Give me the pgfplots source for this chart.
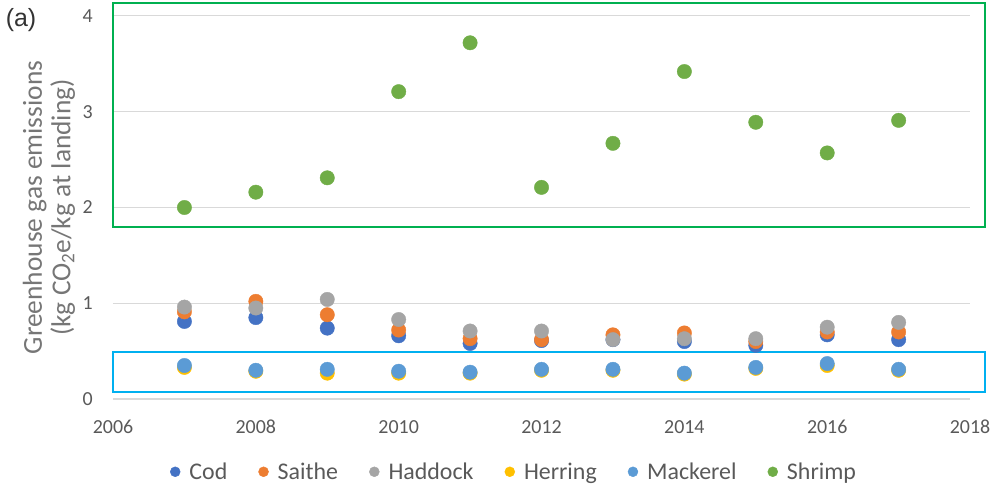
\documentclass[border=0pt]{standalone}
\usepackage{fontspec}
\setmainfont{Carlito}
\newfontfamily\panelfont{Liberation Sans}
\usepackage{pgfplots}
\pgfplotsset{compat=1.18}

\definecolor{codc}{RGB}{68,114,196}
\definecolor{saithec}{RGB}{237,125,49}
\definecolor{haddockc}{RGB}{165,165,165}
\definecolor{herringc}{RGB}{255,192,0}
\definecolor{mackerelc}{RGB}{91,155,213}
\definecolor{shrimpc}{RGB}{112,173,71}
\definecolor{gridc}{RGB}{217,217,217}
\definecolor{tickc}{RGB}{89,89,89}
\definecolor{labelc}{RGB}{118,118,118}
\definecolor{boxgreen}{RGB}{0,176,80}
\definecolor{boxblue}{RGB}{0,176,240}

\begin{document}
\begin{tikzpicture}
\useasboundingbox (-113bp,-89bp) rectangle (890bp,399bp);
\node[font=\panelfont\fontsize{25}{25}\selectfont, text=black!80] at (-92bp,379bp) {(a)};
\begin{axis}[
  at={(0,0)}, anchor=south west,
  x=71.42bp, y=95.75bp,
  xmin=2006, xmax=2018, ymin=0, ymax=4,
  clip=false,
  axis x line=bottom, axis y line=left,
  axis line style={-},
  x axis line style={draw=gridc, line width=1.2bp},
  y axis line style={draw=none},
  ymajorgrids,
  grid style={draw=gridc, line width=1bp},
  major tick length=0pt,
  xtick={2006,2008,...,2018}, ytick={0,1,2,3,4},
  /pgf/number format/1000 sep={},
  /pgf/number format/assume math mode=true,
  tick label style={font=\fontsize{20}{20}\selectfont, text=tickc, inner sep=0pt},
  xticklabel style={anchor=base, yshift=-34bp},
  yticklabel style={anchor=east, xshift=-20bp},
  ylabel={Greenhouse gas emissions\\(kg CO\textsubscript{2}e/kg at landing)},
  ylabel style={at={(axis description cs:0,0.5)}, anchor=center, yshift=64bp,
    align=center, font=\fontsize{27.5}{28.5}\selectfont, text=labelc},
  legend columns=6,
  legend style={at={(rel axis cs:0.472,-0.19)}, anchor=center, draw=none, fill=none,
    font=\fontsize{24}{24}\selectfont, text=tickc,
    nodes={inner ysep=0pt, inner xsep=9bp},
    /tikz/every even column/.append style={column sep=22bp}},
  legend image code/.code={\fill[#1] (0bp,0bp) circle (5bp);},
  every axis plot/.append style={only marks, mark=*, mark size=7.2bp},
]
\addplot[codc, mark options={draw=codc, fill=codc}] coordinates {
  (2007,0.81) (2008,0.85) (2009,0.74) (2010,0.66) (2011,0.58) (2012,0.61)
  (2013,0.62) (2014,0.60) (2015,0.56) (2016,0.67) (2017,0.62)};
\addlegendentry{Cod}
\addplot[saithec, mark options={draw=saithec, fill=saithec}] coordinates {
  (2007,0.91) (2008,1.02) (2009,0.88) (2010,0.72) (2011,0.63) (2012,0.62)
  (2013,0.67) (2014,0.69) (2015,0.60) (2016,0.70) (2017,0.70)};
\addlegendentry{Saithe}
\addplot[haddockc, mark options={draw=haddockc, fill=haddockc}] coordinates {
  (2007,0.96) (2008,0.95) (2009,1.04) (2010,0.83) (2011,0.71) (2012,0.71)
  (2013,0.62) (2014,0.63) (2015,0.63) (2016,0.75) (2017,0.80)};
\addlegendentry{Haddock}
\addplot[herringc, mark options={draw=herringc, fill=herringc}] coordinates {
  (2007,0.33) (2008,0.29) (2009,0.27) (2010,0.27) (2011,0.27) (2012,0.30)
  (2013,0.30) (2014,0.26) (2015,0.32) (2016,0.35) (2017,0.30)};
\addlegendentry{Herring}
\addplot[mackerelc, mark options={draw=mackerelc, fill=mackerelc}] coordinates {
  (2007,0.35) (2008,0.30) (2009,0.31) (2010,0.29) (2011,0.28) (2012,0.31)
  (2013,0.31) (2014,0.27) (2015,0.33) (2016,0.37) (2017,0.31)};
\addlegendentry{Mackerel}
\addplot[shrimpc, mark options={draw=shrimpc, fill=shrimpc}] coordinates {
  (2007,2.00) (2008,2.16) (2009,2.31) (2010,3.21) (2011,3.72) (2012,2.21)
  (2013,2.67) (2014,3.42) (2015,2.89) (2016,2.57) (2017,2.91)};
\addlegendentry{Shrimp}
% highlight boxes around the shrimp group and the pelagic group
\draw[boxgreen, line width=2bp] (axis cs:2006,1.796) rectangle (axis cs:2018.21,4.136);
\draw[boxblue, line width=2bp] (axis cs:2006,0.073) rectangle (axis cs:2018.21,0.491);
\end{axis}
\end{tikzpicture}
\end{document}
